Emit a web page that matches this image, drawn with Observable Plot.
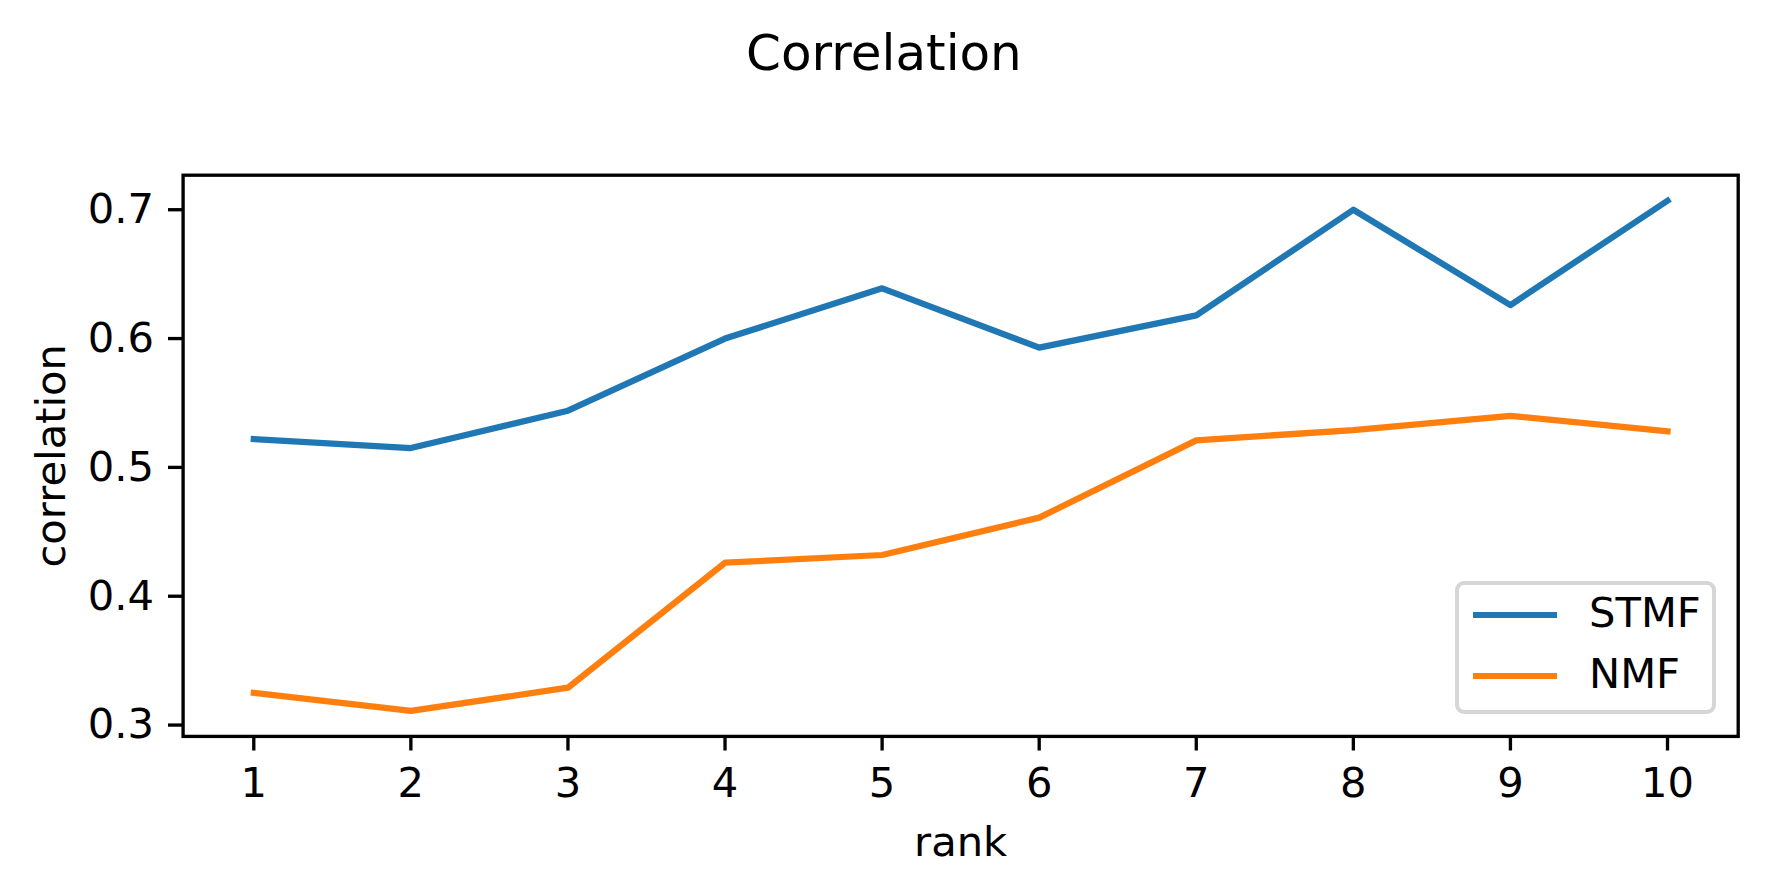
<!DOCTYPE html>
<html>
<head>
<meta charset="utf-8">
<script src="https://cdn.jsdelivr.net/npm/d3@7"></script>
<script src="https://cdn.jsdelivr.net/npm/@observablehq/plot@0.6"></script>
<style>
  html, body { margin: 0; padding: 0; background: white; }
  #wrap { position: relative; width: 1767px; height: 893px; font-family: "DejaVu Sans", sans-serif; }
  #legend { position: absolute; left: 1455px; top: 581px; width: 261px; height: 133px; box-sizing: border-box;
            border: 4px solid #d6d6d6; border-radius: 9px; background: rgba(255,255,255,0.8); }
  .row { position: absolute; left: 0; height: 0; }
  .sw { position: absolute; left: 14px; width: 84px; height: 6.25px; margin-top: -3.1px; }
  .lb { position: absolute; left: 130px; font-size: 41.67px; line-height: 1; transform: translateY(-0.55em); color: black; white-space: nowrap; }
</style>
</head>
<body>
<div id="wrap"></div>
<script>
const ranks = [1, 2, 3, 4, 5, 6, 7, 8, 9, 10];
const stmf = [0.522, 0.515, 0.544, 0.600, 0.639, 0.593, 0.618, 0.700, 0.626, 0.707];
const nmf  = [0.325, 0.311, 0.329, 0.426, 0.432, 0.461, 0.521, 0.529, 0.540, 0.528];
const seriesNames = ["STMF", "NMF"];
const seriesColors = ["#1f77b4", "#ff7f0e"];
const yTicks = [0.3, 0.4, 0.5, 0.6, 0.7];
const titleText = "Correlation";
const xLabel = "rank";
const yLabel = "correlation";

const data = [
  ...ranks.map((r, i) => ({rank: r, value: stmf[i], series: "STMF"})),
  ...ranks.map((r, i) => ({rank: r, value: nmf[i], series: "NMF"}))
];

const chart = Plot.plot({
  width: 1767,
  height: 893,
  marginLeft: 182.6,
  marginRight: 29.3,
  marginTop: 174.7,
  marginBottom: 157.1,
  x: {domain: [0.55, 10.45]},
  y: {domain: [0.2912, 0.7268]},
  color: {domain: seriesNames, range: seriesColors},
  style: {fontFamily: "DejaVu Sans", background: "white", color: "black"},
  marks: [
    Plot.line(data, {x: "rank", y: "value", z: "series", stroke: "series", strokeWidth: 6.25,
                     strokeLinecap: "square", strokeLinejoin: "round"}),
    Plot.frame({stroke: "black", strokeWidth: 3.33}),
    Plot.axisX({ticks: ranks, tickSize: 14.6, tickPadding: 16, fontSize: 41.67, strokeWidth: 3.33,
                label: null, tickFormat: d => String(d)}),
    Plot.axisY({ticks: yTicks, tickSize: 14.6, tickPadding: 14.5, fontSize: 41.67, strokeWidth: 3.33,
                label: null, tickFormat: d3.format(".1f")}),
    Plot.text([titleText], {frameAnchor: "top", dx: -76.7, dy: -105, lineAnchor: "bottom", fontSize: 50}),
    Plot.text([xLabel], {frameAnchor: "bottom", dy: 120, lineAnchor: "bottom", fontSize: 41.67}),
    Plot.text([yLabel], {frameAnchor: "left", dx: -131, rotate: -90, textAnchor: "middle", lineAnchor: "middle", fontSize: 41.67})
  ]
});

const wrap = document.getElementById("wrap");
wrap.appendChild(chart);

const legend = document.createElement("div");
legend.id = "legend";
const rowTops = [30, 91];
seriesNames.forEach((name, i) => {
  const row = document.createElement("div");
  row.className = "row";
  row.style.top = rowTops[i] + "px";
  const sw = document.createElement("div");
  sw.className = "sw";
  sw.style.background = seriesColors[i];
  const lb = document.createElement("div");
  lb.className = "lb";
  lb.textContent = name;
  row.appendChild(sw);
  row.appendChild(lb);
  legend.appendChild(row);
});
wrap.appendChild(legend);
</script>
</body>
</html>
